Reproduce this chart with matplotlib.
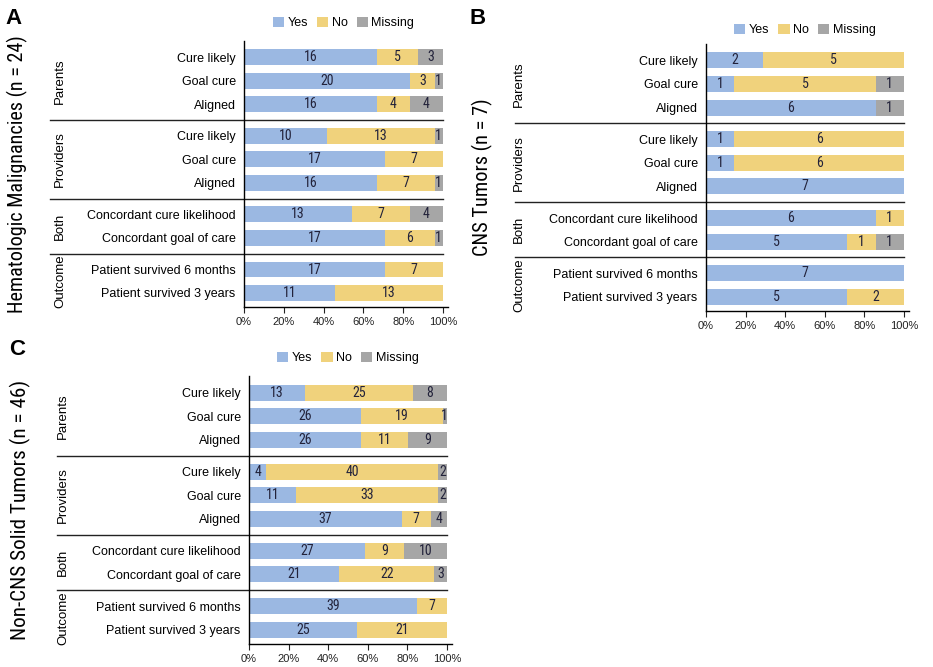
import matplotlib
matplotlib.use("Agg")
import matplotlib.pyplot as plt
from matplotlib import font_manager
from matplotlib.font_manager import FontProperties
from matplotlib.patches import Patch
from matplotlib.transforms import blended_transform_factory

plt.rcParams['font.family'] = ['Liberation Sans', 'DejaVu Sans']


def find_narrow():
    # prefer a condensed face if one is installed
    prefs = ['LiberationSansNarrow-Regular', 'RobotoCondensed-Regular',
             'DejaVuSansCondensed.ttf', 'OpenSans_Condensed', 'OpenSansCondensed']
    files = [f.fname for f in font_manager.fontManager.ttflist]
    for p in prefs:
        for fn in files:
            if p in fn.replace('-', '').replace('_', '') or p in fn:
                return fn
    for f in font_manager.fontManager.ttflist:
        if f.stretch in ('condensed', 'semi-condensed') and f.style == 'normal' and f.weight in (400, 'normal'):
            return f.fname
    return None


NARROW_FILE = find_narrow()


def narrow(size):
    if NARROW_FILE:
        return FontProperties(fname=NARROW_FILE, size=size)
    return FontProperties(family='Liberation Sans', size=size)


# data: counts of Yes / No / Missing per row
groups = ['Parents', 'Providers', 'Both', 'Outcome']
row_labels = [
    ['Cure likely', 'Goal cure', 'Aligned'],
    ['Cure likely', 'Goal cure', 'Aligned'],
    ['Concordant cure likelihood', 'Concordant goal of care'],
    ['Patient survived 6 months', 'Patient survived 3 years'],
]
series = ['Yes', 'No', 'Missing']
colors = ['#9bb8e2', '#f0d27c', '#a6a6a6']

heme_yes = [16, 20, 16, 10, 17, 16, 13, 17, 17, 11]
heme_no = [5, 3, 4, 13, 7, 7, 7, 6, 7, 13]
heme_miss = [3, 1, 4, 1, 0, 1, 4, 1, 0, 0]

cns_yes = [2, 1, 6, 1, 1, 7, 6, 5, 7, 5]
cns_no = [5, 5, 0, 6, 6, 0, 1, 1, 0, 2]
cns_miss = [0, 1, 1, 0, 0, 0, 0, 1, 0, 0]

solid_yes = [13, 26, 26, 4, 11, 37, 27, 21, 39, 25]
solid_no = [25, 19, 11, 40, 33, 7, 9, 22, 7, 21]
solid_miss = [8, 1, 9, 2, 2, 4, 10, 3, 0, 0]

xticks = [0, 0.2, 0.4, 0.6, 0.8, 1.0]
xticklabels = ['0%', '20%', '40%', '60%', '80%', '100%']

W, H = 933, 667
fig = plt.figure(figsize=(W / 100, H / 100), dpi=100)
renderer = fig.canvas.get_renderer()

GAP = 1.35


def fit_text(txt, target_px):
    # shrink/grow a text so its long side matches the reference length
    bb = txt.get_window_extent(renderer=renderer)
    cur = max(bb.width, bb.height)
    txt.set_fontsize(txt.get_fontsize() * target_px / cur)


def panel(letter, title, counts, box, letter_xy, title_x, title_len, group_x, sep_x, legend_y):
    l, t, r, b = box
    ext = 1.025
    ax = fig.add_axes([l / W, 1 - b / H, (r - l) * ext / W, (b - t) / H])

    # row positions
    pos = []
    seps = []
    y = 0
    for labs in row_labels:
        start = y
        for lab in labs:
            pos.append(y)
            y += 1
        seps.append((start, y - 1))
        y += GAP - 1

    yes, no, miss = counts
    totals = [a + b_ + c for a, b_, c in zip(yes, no, miss)]
    left = [0.0] * len(pos)
    for vals, col in zip(counts, colors):
        frac = [v / tot for v, tot in zip(vals, totals)]
        ax.barh(pos, frac, left=left, height=0.68, color=col, edgecolor='none')
        for p, v, f, lf in zip(pos, vals, frac, left):
            if v > 0:
                ax.text(lf + f / 2, p, str(v), ha='center', va='center',
                        fontproperties=narrow(10), color='#22223a')
        left = [a + f for a, f in zip(left, frac)]

    ax.set_xlim(0, ext)
    ax.set_ylim(pos[-1] + 0.6, -0.7)
    ax.set_yticks(pos)
    ax.set_yticklabels([lab for labs in row_labels for lab in labs], fontsize=9)
    ax.tick_params(axis='y', length=0, pad=6)
    ax.set_xticks(xticks)
    ax.set_xticklabels(xticklabels, fontsize=8)
    ax.tick_params(axis='x', length=4, width=0.8, pad=3, colors='#222222')
    for s in ['top', 'right']:
        ax.spines[s].set_visible(False)
    ax.spines['left'].set_linewidth(1.0)
    ax.spines['bottom'].set_linewidth(1.0)

    tr = blended_transform_factory(fig.transFigure, ax.transData)
    for gi, (s0, s1) in enumerate(seps):
        ax.text(group_x / W, (s0 + s1) / 2, groups[gi], rotation=90,
                ha='center', va='center', fontsize=9.5, transform=tr)
        if gi < len(seps) - 1:
            ymid = (s1 + seps[gi + 1][0]) / 2
            ax.plot([sep_x / W, r / W], [ymid, ymid], color='#222222',
                    lw=1.0, transform=tr, clip_on=False)

    handles = [Patch(facecolor=c, edgecolor='none', label=s) for c, s in zip(colors, series)]
    ax.legend(handles=handles, ncol=3, loc='center', frameon=False,
              bbox_to_anchor=(0.5 / ext, 1 + (t - legend_y) / (b - t)),
              fontsize=9, handlelength=0.9, handleheight=0.9,
              handletextpad=0.3, columnspacing=0.7, borderpad=0)

    fig.text(letter_xy[0] / W, 1 - letter_xy[1] / H, letter, fontsize=16,
             fontweight='bold', ha='center', va='center')
    tt = fig.text(title_x / W, 1 - (t + b) / 2 / H, title, rotation=90,
                  fontproperties=narrow(15), ha='center', va='center')
    fit_text(tt, title_len)
    return ax


panel('A', 'Hematologic Malignancies (n = 24)', [heme_yes, heme_no, heme_miss],
      (244, 41, 443, 307), (14, 18), 17, 278, 60, 50, 23)
panel('B', 'CNS Tumors (n = 7)', [cns_yes, cns_no, cns_miss],
      (706, 44, 904, 311), (478, 18), 482, 158, 519, 515, 30)
panel('C', 'Non-CNS Solid Tumors (n = 46)', [solid_yes, solid_no, solid_miss],
      (249, 376, 447, 644), (17, 350), 20, 260, 63, 57, 358)

fig.savefig('out.png', dpi=100)
